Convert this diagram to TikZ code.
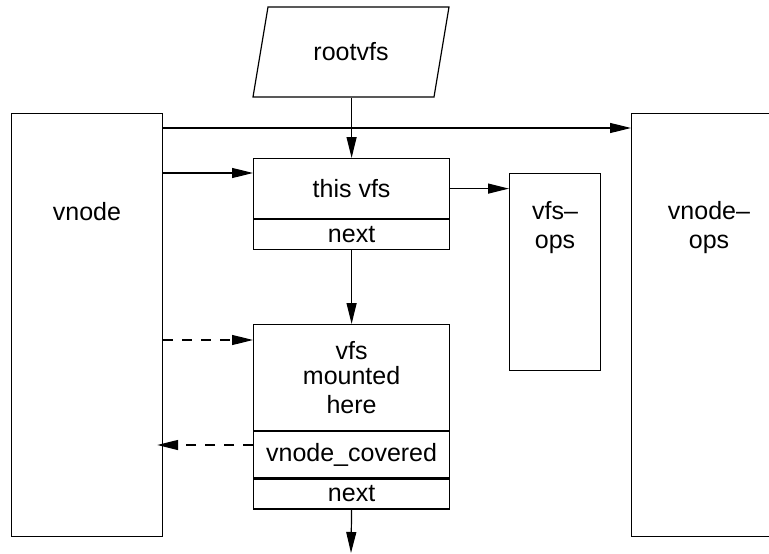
\documentclass[tikz,border=0pt]{standalone}
\usepackage{fontspec}
\setmainfont{Liberation Sans}
\usetikzlibrary{arrows.meta}

\begin{document}
\begin{tikzpicture}[x=1pt, y=-1pt, line width=1.2pt,
	field/.style={draw, inner sep=0pt, anchor=north west, minimum width=196pt},
	arr/.style={-{Triangle[length=21pt, width=10pt]}},
	dashline/.style={dash pattern=on 10pt off 9pt}]
	\fontsize{25}{29}\selectfont
	\clip (0,0) rectangle (769,554);

	%big boxes on both sides
	\node[field, minimum width=151pt, minimum height=423pt] (vnode) at (11,113) {};
	\node[field, minimum width=156pt, minimum height=423pt] (vnodeops) at (631,113) {};
	\node[field, minimum width=91pt, minimum height=197pt] (vfsops) at (509,173) {};
	\node (vnodetxt) at (87,212) {vnode};
	\node[align=center] (vnodeopstxt) at (709,228) {vnode--\\ops};
	\node[align=center] (vfsopstxt) at (555,228) {vfs--\\ops};

	%root parallelogram
	\draw (253,97) -- (434,97) -- (449,7) -- (268,7) -- cycle;
	\node[inner sep=0pt, minimum height=90pt] (rootvfs) at (351,52) {rootvfs};

	%vfs records
	\node[field, minimum height=60pt] (thisvfs) at (253,158) {this vfs};
	\node[field, minimum height=30pt] (thisnext) at (thisvfs.south west) {next};
	\node[field, minimum height=106pt, align=center] (mounted) at (253,324) {vfs\\[-4pt]mounted\\here};
	\node[field, minimum height=46pt] (covered) at (mounted.south west) {vnode\_covered};
	\node[field, minimum height=30pt] (mountnext) at (covered.south west) {next};
	\coordinate (tail) at (351,553);

	%pointers
	\draw[arr] (vnode.east |- 0,128) -- (vnodeops.west |- 0,128);
	\draw[arr] (vnode.east |- 0,173) -- (thisvfs.west |- 0,173);
	\draw[arr] (thisvfs.east) -- (vfsops.west |- thisvfs.east);
	\draw[arr] (rootvfs.south -| thisvfs.north) -- (thisvfs.north);
	\draw[arr] (thisnext.south) -- (mounted.north);
	\draw[arr] (mountnext.south) -- (tail);
	\draw[arr, dashline] (vnode.east |- 0,340) -- (mounted.west |- 0,340);
	\draw[arr, dashline] (covered.west |- 0,445) -- ([xshift=-6pt]vnode.east |- 0,445);

\end{tikzpicture}
\end{document}
